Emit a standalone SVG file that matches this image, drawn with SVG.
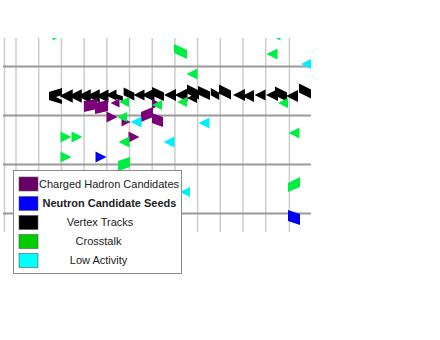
<svg xmlns="http://www.w3.org/2000/svg" xmlns:xlink="http://www.w3.org/1999/xlink" width="440" height="340" viewBox="0 0 440 340">
<style>
.vg{stroke:#cccccc;stroke-width:1.5}
.hg{stroke:#999999;stroke-width:2}
.g{fill:#00ee44}
.p{fill:#7a007a}
.k{fill:#000000}
.b{fill:#0000ee}
.c{fill:#00eeff}
.lt{font-family:"Liberation Sans",Arial,sans-serif;font-size:11px;fill:#222222;text-anchor:middle}
.sw{stroke:#555555;stroke-width:0.6}
</style>
<defs>
<clipPath id="plot"><rect x="3" y="38" width="308" height="194"/></clipPath>
<path id="tl" d="M5,-5 L-5,0 L5,5 Z"/>
<path id="tr" d="M-5,-5 L5,0 L-5,5 Z"/>
<path id="bt" d="M-6,-5 L6,-1 L6,5 L-6,1 Z"/>
</defs>
<rect width="440" height="340" fill="#ffffff"/>
<g id="grid" clip-path="url(#plot)">
<line class="vg" x1="4.5" y1="38" x2="4.5" y2="232"/>
<line class="vg" x1="16" y1="38" x2="16" y2="232"/>
<line class="vg" x1="38.7" y1="38" x2="38.7" y2="232"/>
<line class="vg" x1="61.4" y1="38" x2="61.4" y2="232"/>
<line class="vg" x1="84.1" y1="38" x2="84.1" y2="232"/>
<line class="vg" x1="106.8" y1="38" x2="106.8" y2="232"/>
<line class="vg" x1="129.5" y1="38" x2="129.5" y2="232"/>
<line class="vg" x1="152.2" y1="38" x2="152.2" y2="232"/>
<line class="vg" x1="174.9" y1="38" x2="174.9" y2="232"/>
<line class="vg" x1="197.6" y1="38" x2="197.6" y2="232"/>
<line class="vg" x1="220.3" y1="38" x2="220.3" y2="232"/>
<line class="vg" x1="243" y1="38" x2="243" y2="232"/>
<line class="vg" x1="265.7" y1="38" x2="265.7" y2="232"/>
<line class="vg" x1="289.4" y1="38" x2="289.4" y2="232"/>
<line class="hg" x1="3" y1="66.5" x2="311" y2="66.5"/>
<line class="hg" x1="3" y1="115.5" x2="311" y2="115.5"/>
<line class="hg" x1="3" y1="164.5" x2="311" y2="164.5"/>
<line class="hg" x1="3" y1="213.5" x2="311" y2="213.5"/>
</g>
<g id="markers" clip-path="url(#plot)">
<g id="vertex-tracks" class="k">
<path d="M49,92 L62,88 L62,95 L56,97 L62,100 L62,104 L49,100 Z"/>
<use xlink:href="#tl" transform="translate(66,96) scale(1.35)"/>
<use xlink:href="#tl" transform="translate(75,96) scale(1.35)"/>
<use xlink:href="#tl" transform="translate(84,96) scale(1.35)"/>
<use xlink:href="#tl" transform="translate(93,96) scale(1.35)"/>
<use xlink:href="#tl" transform="translate(102,96) scale(1.3)"/>
<use xlink:href="#tl" transform="translate(111,95) scale(1.1)"/>
<use xlink:href="#bt" transform="translate(118,97) scale(0.8)"/>
<use xlink:href="#bt" transform="translate(129,94) scale(0.9,1.3)"/>
<use xlink:href="#tl" transform="translate(139,95) scale(1.1)"/>
<use xlink:href="#tl" transform="translate(148,95) scale(1.3)"/>
<use xlink:href="#bt" transform="translate(158,94) scale(1,1.4)"/>
<use xlink:href="#tl" transform="translate(170,95) scale(1.2)"/>
<use xlink:href="#tl" transform="translate(181,95) scale(1.3)"/>
<use xlink:href="#bt" transform="translate(193,92) scale(1,1.5)"/>
<use xlink:href="#tl" transform="translate(192,98) scale(1)"/>
<use xlink:href="#bt" transform="translate(204,93) scale(1,1.4)"/>
<use xlink:href="#bt" transform="translate(215,94) scale(0.7,1.2)"/>
<use xlink:href="#bt" transform="translate(225,92) scale(1,1.5)"/>
<use xlink:href="#tl" transform="translate(239,95) scale(1.2)"/>
<use xlink:href="#tl" transform="translate(248,96) scale(1.2)"/>
<use xlink:href="#tl" transform="translate(260,95) scale(1.1)"/>
<use xlink:href="#tl" transform="translate(272,95) scale(1.2)"/>
<use xlink:href="#bt" transform="translate(281,94) scale(1,1.5)"/>
<use xlink:href="#tl" transform="translate(292,96) scale(1.2)"/>
<use xlink:href="#bt" transform="translate(305,91) scale(1,1.5)"/>
</g>
<g id="charged-hadrons" class="p">
<path d="M84,101 L97,99 L97,109 L84,112 Z"/>
<path d="M95,103 L108,100 L108,111 L95,114 Z"/>
<use xlink:href="#tr" transform="translate(112,117) scale(1.1)"/>
<use xlink:href="#tl" transform="translate(115,103) scale(0.9)"/>
<use xlink:href="#tr" transform="translate(126,122) scale(0.9)"/>
<use xlink:href="#tr" transform="translate(134,137) scale(1.1)"/>
<path d="M141,112 L153,107 L153,117 L141,122 Z"/>
<use xlink:href="#tr" transform="translate(157,104) scale(1)"/>
<path d="M152,113 L163,117 L163,127 L152,123 Z"/>
</g>
<g id="crosstalk" class="g">
<use xlink:href="#tr" transform="translate(58,35) scale(1.1)"/>
<path d="M174,44 L187,50 L187,59 L174,53 Z"/>
<use xlink:href="#tl" transform="translate(192,74) scale(1.1)"/>
<use xlink:href="#tl" transform="translate(272,54) scale(1.1)"/>
<use xlink:href="#tl" transform="translate(275,35) scale(1.1)"/>
<use xlink:href="#tl" transform="translate(124,102) scale(1)"/>
<use xlink:href="#tl" transform="translate(122,117) scale(1)"/>
<use xlink:href="#tl" transform="translate(157,105) scale(1)"/>
<use xlink:href="#tl" transform="translate(182,102) scale(1)"/>
<use xlink:href="#tl" transform="translate(283,103) scale(1)"/>
<use xlink:href="#tr" transform="translate(66,137) scale(1.1)"/>
<use xlink:href="#tr" transform="translate(77,137) scale(1.1)"/>
<use xlink:href="#tr" transform="translate(66,157) scale(1.1)"/>
<use xlink:href="#tl" transform="translate(124,142) scale(1.1)"/>
<path d="M118,161 L130,157 L130,167 L118,171 Z"/>
<use xlink:href="#tl" transform="translate(294,133) scale(1.1)"/>
<path d="M288,183 L300,177 L300,187 L288,192 Z"/>
</g>
<g id="neutron-seeds" class="b">
<use xlink:href="#tr" transform="translate(101,157) scale(1.1)"/>
<path d="M288,210 L300,214 L300,225 L288,221 Z"/>
</g>
<g id="low-activity" class="c">
<use xlink:href="#tl" transform="translate(306,64) scale(1)"/>
<use xlink:href="#tl" transform="translate(136,122) scale(1.1)"/>
<use xlink:href="#tl" transform="translate(204,123) scale(1.1)"/>
<use xlink:href="#tl" transform="translate(169,142) scale(1.1)"/>
<use xlink:href="#tl" transform="translate(185,192) scale(1)"/>
</g>
</g>
<g id="legend">
<rect x="13.5" y="170.5" width="168" height="103" fill="#ffffff" stroke="#8a8a96" stroke-width="1"/>
<rect class="sw" x="19" y="177" width="19" height="14" fill="#660066"/>
<rect class="sw" x="19" y="196.5" width="19" height="14" fill="#0000ff"/>
<rect class="sw" x="19" y="215.5" width="19" height="14" fill="#000000"/>
<rect class="sw" x="19" y="234.5" width="19" height="14" fill="#00cc00"/>
<rect class="sw" x="19" y="253.5" width="19" height="14" fill="#00ffff"/>
<text class="lt" x="109" y="188">Charged Hadron Candidates</text>
<text class="lt" x="109.5" y="207" font-weight="bold">Neutron Candidate Seeds</text>
<text class="lt" x="100" y="226">Vertex Tracks</text>
<text class="lt" x="98.5" y="245">Crosstalk</text>
<text class="lt" x="98.5" y="264">Low Activity</text>
</g>
</svg>
